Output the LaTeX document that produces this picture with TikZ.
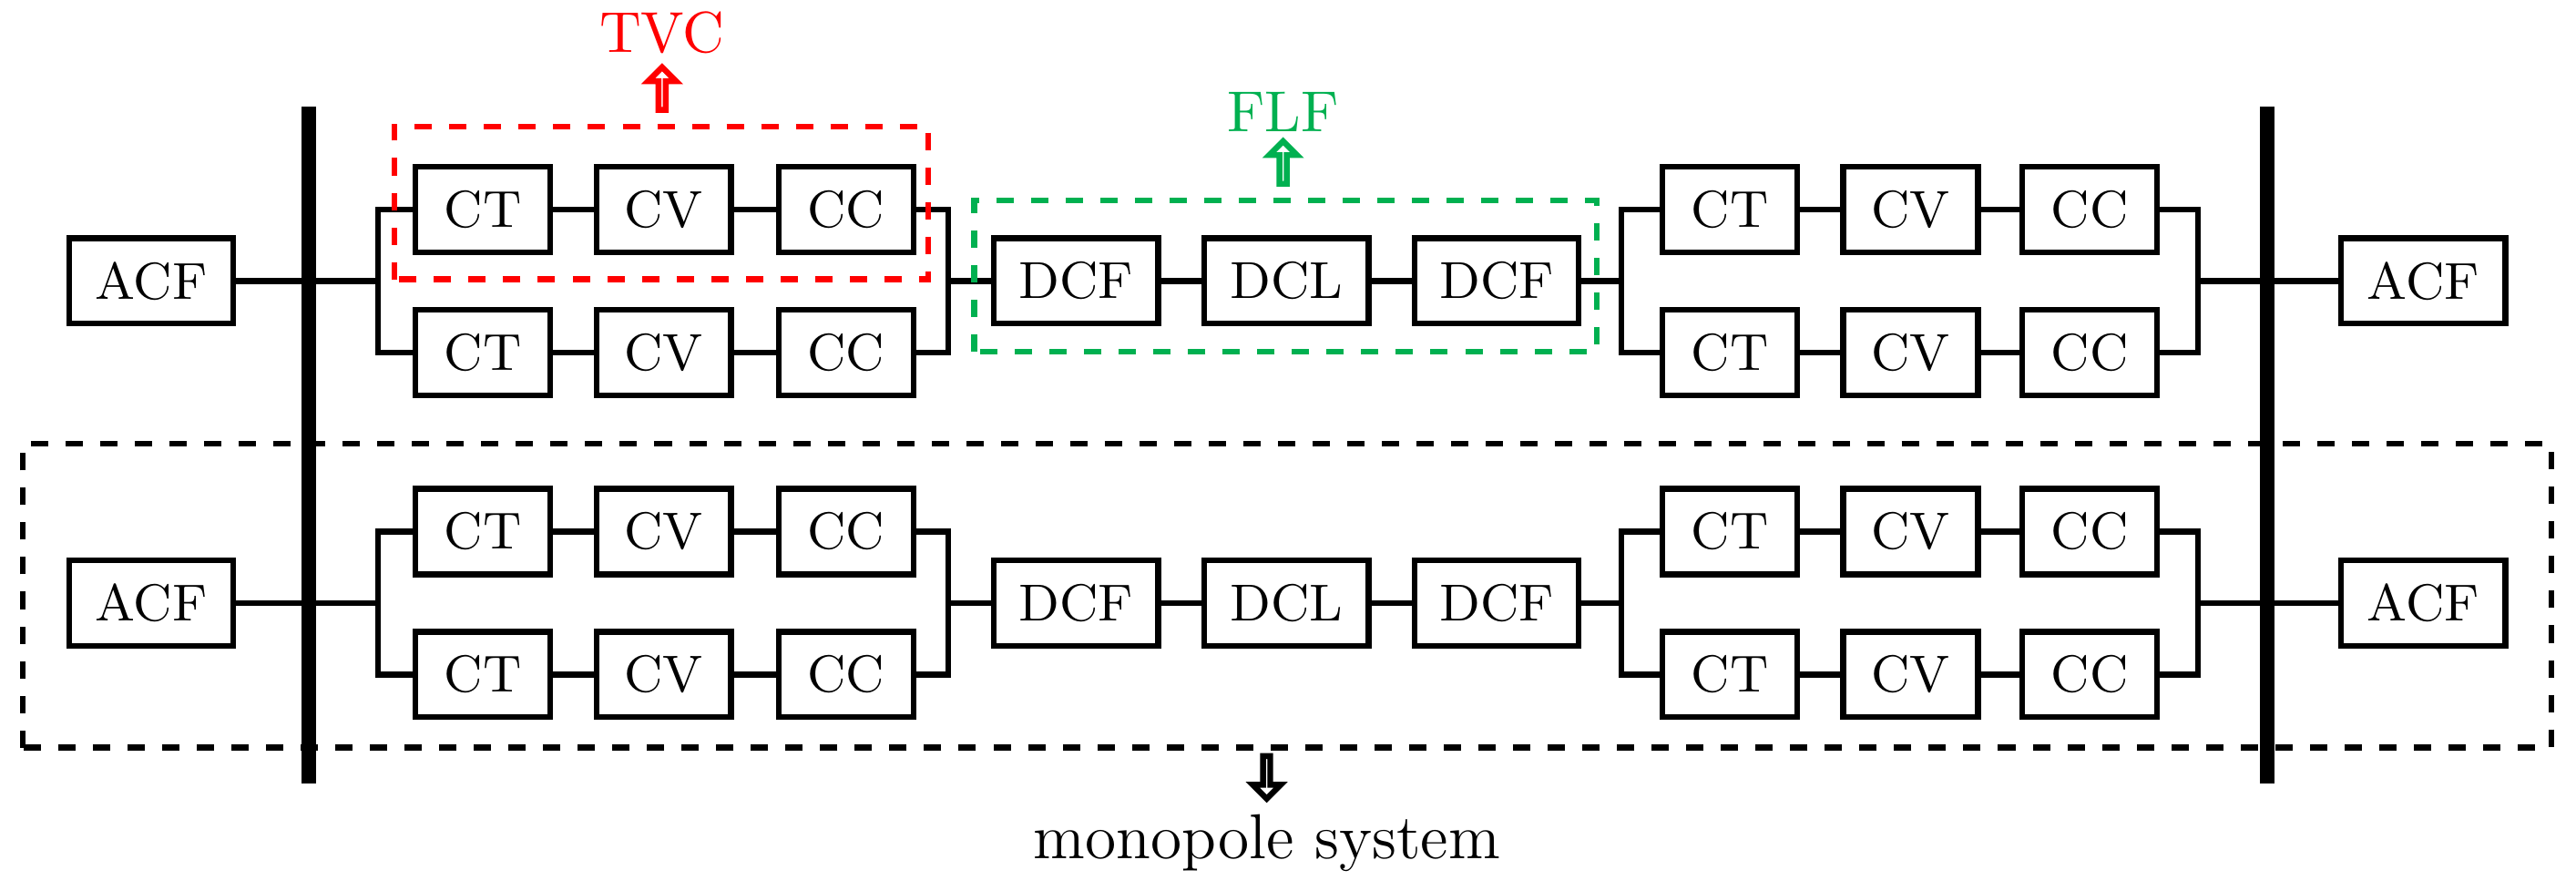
\documentclass[tikz,border=0pt]{standalone}
\usetikzlibrary{shapes.arrows,positioning,calc}
\definecolor{tvcred}{RGB}{255,0,0}
\definecolor{flfgreen}{RGB}{0,176,80}
\tikzset{
  blk/.style={draw, line width=1pt, minimum width=0.82cm, minimum height=0.52cm, inner sep=0pt, font=\fontsize{9}{10}\selectfont},
  wide/.style={blk, minimum width=1.0cm},
  wire/.style={line width=1pt},
  bus/.style={line width=2.4pt},
  hollow/.style={single arrow, draw, line width=1pt, minimum height=0.26cm, minimum width=0.17cm, single arrow head extend=0.05cm, inner sep=0pt},
}
\begin{document}
\begin{tikzpicture}
  \useasboundingbox (0,0) rectangle (15.68,5.42);
  % buses
  \coordinate (busLt) at (1.88,4.77); \coordinate (busLb) at (1.88,0.65);
  \coordinate (busRt) at (13.80,4.77); \coordinate (busRb) at (13.80,0.65);
  \draw[bus] (busLt) -- (busLb);
  \draw[bus] (busRt) -- (busRb);
  % two poles
  \foreach \s/\y in {a/3.71, b/1.75}{
    \node[wide] (acfl\s) at (0.92,\y) {ACF};
    \node[wide] (acfr\s) at (14.75,\y) {ACF};
    \node[wide] (dcfl\s) at (6.55,\y) {DCF};
    \node[wide] (dcl\s) at (7.83,\y) {DCL};
    \node[wide] (dcfr\s) at (9.11,\y) {DCF};
    \foreach \r/\dy in {u/0.435, d/-0.435}{
      \node[blk] (ctl\s\r) at (2.94,\y+\dy) {CT};
      \node[blk] (cvl\s\r) at (4.04,\y+\dy) {CV};
      \node[blk] (ccl\s\r) at (5.15,\y+\dy) {CC};
      \node[blk] (ctr\s\r) at (10.53,\y+\dy) {CT};
      \node[blk] (cvr\s\r) at (11.63,\y+\dy) {CV};
      \node[blk] (ccr\s\r) at (12.72,\y+\dy) {CC};
      \draw[wire] (ctl\s\r) -- (cvl\s\r) -- (ccl\s\r);
      \draw[wire] (ctr\s\r) -- (cvr\s\r) -- (ccr\s\r);
    }
    % parallel branches
    \coordinate (spl1\s) at (2.30,\y); \coordinate (spl2\s) at (5.77,\y);
    \coordinate (spr1\s) at (9.87,\y); \coordinate (spr2\s) at (13.38,\y);
    \draw[wire] (ctl\s u.west) -| (spl1\s) |- (ctl\s d.west);
    \draw[wire] (ccl\s u.east) -| (spl2\s) |- (ccl\s d.east);
    \draw[wire] (ctr\s u.west) -| (spr1\s) |- (ctr\s d.west);
    \draw[wire] (ccr\s u.east) -| (spr2\s) |- (ccr\s d.east);
    \draw[wire] (acfl\s) -- (spl1\s);
    \draw[wire] (spl2\s) -- (dcfl\s) -- (dcl\s) -- (dcfr\s) -- (spr1\s);
    \draw[wire] (spr2\s) -- (acfr\s);
  }
  % highlighted groups
  \draw[tvcred, line width=1pt, dashed] (2.40,3.72) rectangle (5.65,4.65);
  \node[hollow, tvcred, rotate=90] (uptvc) at (4.03,4.87) {};
  \node[text=tvcred, font=\fontsize{10}{12}\selectfont] (tvc) at (4.03,5.22) {TVC};
  \draw[flfgreen, line width=1pt, dashed] (5.93,3.28) rectangle (9.72,4.20);
  \node[hollow, flfgreen, rotate=90] (upflf) at (7.81,4.42) {};
  \node[text=flfgreen, font=\fontsize{10}{12}\selectfont] (flf) at (7.81,4.74) {FLF};
  % monopole
  \draw[line width=1pt, dashed] (0.14,0.87) rectangle (15.53,2.72);
  \node[hollow, rotate=-90] (dnmono) at (7.71,0.70) {};
  \node[font=\fontsize{11}{13}\selectfont] (mono) at (7.71,0.29) {monopole system};
\end{tikzpicture}
\end{document}
